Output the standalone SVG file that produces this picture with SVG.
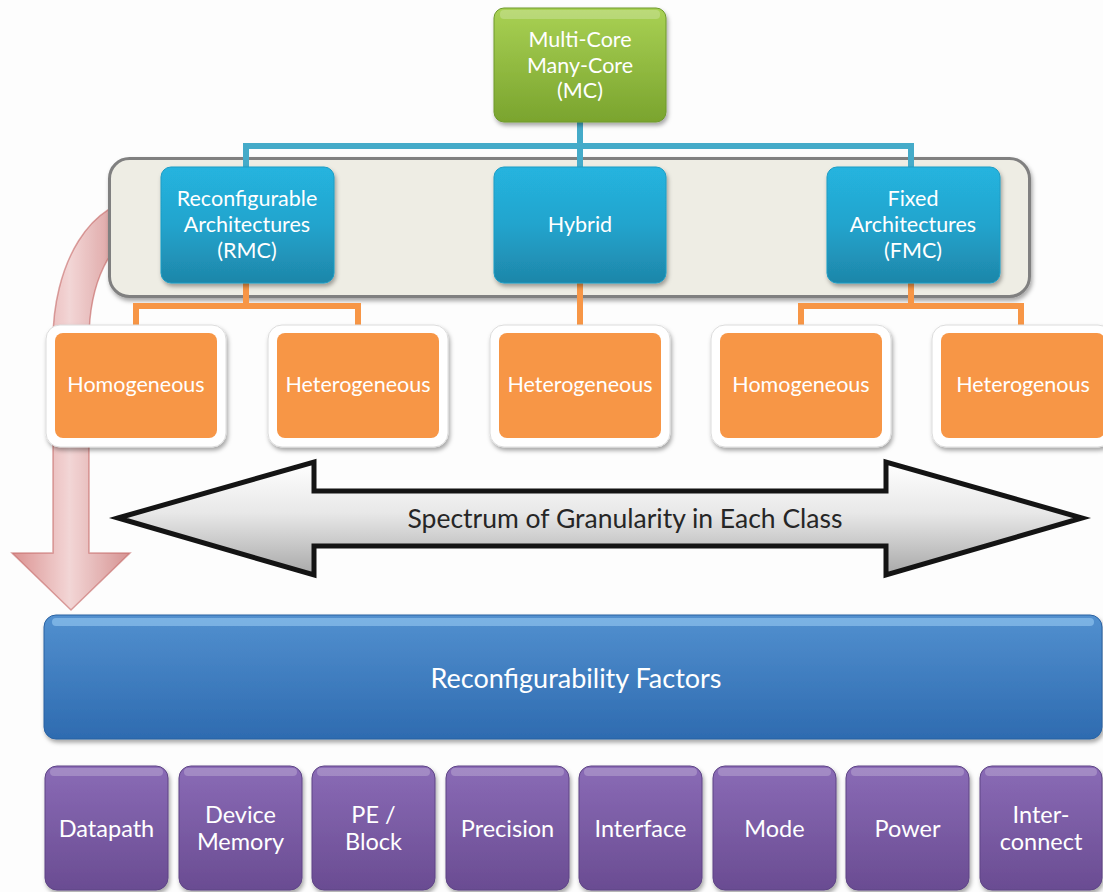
<svg xmlns="http://www.w3.org/2000/svg" width="1103" height="892" viewBox="0 0 1103 892">
<defs>
<style>
.t{font-family:Lato,"Open Sans","Liberation Sans",sans-serif;fill:#ffffff;text-anchor:middle}
.lb{font-size:21.5px}
.pu{font-size:23.5px}
.bluebox{fill:url(#gBlue);stroke:#1c9cc4;stroke-width:1}
.frame{fill:#ffffff;stroke:#dcdcdc;stroke-width:1}
.orange{fill:#F79646}
.purple{fill:url(#gPurple);stroke:#5e4585;stroke-width:1}
.hl{fill:#ffffff;opacity:0.22}
.conB{fill:none;stroke:#45ABC9;stroke-width:6}
.conO{fill:none;stroke:#F79646;stroke-width:6}
</style>
<filter id="sh" x="-10%" y="-10%" width="125%" height="135%">
<feDropShadow dx="1.5" dy="3" stdDeviation="2.2" flood-color="#000" flood-opacity="0.35"/>
</filter>
<linearGradient id="gGreen" x1="0" y1="0" x2="0" y2="1">
<stop offset="0" stop-color="#A9D154"/>
<stop offset="1" stop-color="#7AA42E"/>
</linearGradient>
<linearGradient id="gBlue" x1="0" y1="0" x2="0" y2="1">
<stop offset="0" stop-color="#25B4DF"/>
<stop offset="0.5" stop-color="#23A4CD"/>
<stop offset="1" stop-color="#1E86A9"/>
</linearGradient>
<linearGradient id="gBar" x1="0" y1="0" x2="0" y2="1">
<stop offset="0" stop-color="#5290CF"/>
<stop offset="1" stop-color="#2E6BB0"/>
</linearGradient>
<linearGradient id="gPurple" x1="0" y1="0" x2="0" y2="1">
<stop offset="0" stop-color="#8A6BB6"/>
<stop offset="1" stop-color="#6A4C92"/>
</linearGradient>
<linearGradient id="gSpec" x1="0" y1="0" x2="0" y2="1">
<stop offset="0" stop-color="#FFFFFF"/>
<stop offset="0.45" stop-color="#E8E8E8"/>
<stop offset="1" stop-color="#A8A8A8"/>
</linearGradient>
<linearGradient id="gPink" x1="0" y1="0" x2="1" y2="0">
<stop offset="0" stop-color="#D98A89"/>
<stop offset="0.45" stop-color="#F2D3D3"/>
<stop offset="1" stop-color="#CE7F7E"/>
</linearGradient>
</defs>
<rect x="0" y="0" width="1103" height="892" fill="#FDFDFD"/>

<g id="curved-arrow">
<path d="M140 200 A87 140 0 0 0 53 340 L53 553 L12 553 L71 610 L130 553 L89 553 L89 340 A51 104 0 0 1 140 236 Z" fill="url(#gPink)" stroke="#C05A59" stroke-width="1.5" stroke-opacity="0.6" opacity="0.92"/>
</g>

<g id="class-container">
<rect x="109.5" y="158.5" width="920" height="138" rx="20" fill="#EEEDE4" stroke="#808080" stroke-width="3" filter="url(#sh)"/>
</g>

<g id="connectors">
<path class="conB" d="M580 122 V168 M246 168 V146 H911 V168"/>
<path class="conO" d="M246 283 V306 M136 326 V306 H358 V326 M580 283 V326 M911 283 V306 M801 326 V306 H1021 V326"/>
</g>

<g id="mc">
<rect x="494" y="8" width="172" height="114" rx="10" fill="url(#gGreen)" stroke="#6E9A2C" stroke-width="1" filter="url(#sh)"/>
<rect class="hl" x="500" y="10" width="160" height="9" rx="4"/>
<text class="t lb" x="580" y="47">Multi-Core</text>
<text class="t lb" x="580" y="73">Many-Core</text>
<text class="t lb" x="580" y="98">(MC)</text>
</g>

<g id="rmc">
<rect class="bluebox" x="161" y="167" width="173" height="116" rx="10" filter="url(#sh)"/>
<text class="t lb" x="247" y="206">Reconfigurable</text>
<text class="t lb" x="247" y="232">Architectures</text>
<text class="t lb" x="247" y="258">(RMC)</text>
</g>
<g id="hybrid">
<rect class="bluebox" x="494" y="167" width="172" height="116" rx="10" filter="url(#sh)"/>
<text class="t lb" x="580" y="232">Hybrid</text>
</g>
<g id="fmc">
<rect class="bluebox" x="827" y="167" width="173" height="116" rx="10" filter="url(#sh)"/>
<text class="t lb" x="913" y="206">Fixed</text>
<text class="t lb" x="913" y="232">Architectures</text>
<text class="t lb" x="913" y="258">(FMC)</text>
</g>

<g id="rmc-homogeneous">
<rect class="frame" x="46" y="325" width="180" height="122" rx="14" filter="url(#sh)"/>
<rect class="orange" x="55" y="333" width="162" height="105" rx="8"/>
<text class="t lb" x="136" y="392">Homogeneous</text>
</g>
<g id="rmc-heterogeneous">
<rect class="frame" x="268" y="325" width="180" height="122" rx="14" filter="url(#sh)"/>
<rect class="orange" x="277" y="333" width="162" height="105" rx="8"/>
<text class="t lb" x="358" y="392">Heterogeneous</text>
</g>
<g id="hybrid-heterogeneous">
<rect class="frame" x="490" y="325" width="180" height="122" rx="14" filter="url(#sh)"/>
<rect class="orange" x="499" y="333" width="162" height="105" rx="8"/>
<text class="t lb" x="580" y="392">Heterogeneous</text>
</g>
<g id="fmc-homogeneous">
<rect class="frame" x="711" y="325" width="180" height="122" rx="14" filter="url(#sh)"/>
<rect class="orange" x="720" y="333" width="162" height="105" rx="8"/>
<text class="t lb" x="801" y="392">Homogeneous</text>
</g>
<g id="fmc-heterogenous">
<rect class="frame" x="932" y="325" width="180" height="122" rx="14" filter="url(#sh)"/>
<rect class="orange" x="941" y="333" width="164" height="105" rx="8"/>
<text class="t lb" x="1023" y="392">Heterogenous</text>
</g>

<g id="spectrum">
<polygon points="118,518 314,462 314,491 886,491 886,462 1082,518 886,575 886,546 314,546 314,575" fill="url(#gSpec)" stroke="#141414" stroke-width="5" stroke-linejoin="miter"/>
<text x="625" y="528" font-family="Lato,'Open Sans','Liberation Sans',sans-serif" font-size="26.5" fill="#262626" text-anchor="middle">Spectrum of Granularity in Each Class</text>
</g>

<g id="factors">
<rect x="44" y="615" width="1058" height="124" rx="12" fill="url(#gBar)" stroke="#2A62A2" stroke-width="1" filter="url(#sh)"/>
<rect x="52" y="618" width="1042" height="8" rx="4" fill="#9FD0F5" opacity="0.55"/>
<text class="t" x="576" y="688" font-size="27">Reconfigurability Factors</text>
</g>

<g id="datapath">
<rect class="purple" x="45" y="766" width="123" height="124" rx="12" filter="url(#sh)"/>
<rect class="hl" x="50" y="768" width="113" height="8" rx="4"/>
<text class="t pu" x="106.5" y="837">Datapath</text>
</g>
<g id="device-memory">
<rect class="purple" x="179" y="766" width="123" height="124" rx="12" filter="url(#sh)"/>
<rect class="hl" x="184" y="768" width="113" height="8" rx="4"/>
<text class="t pu" x="240.5" y="823">Device</text>
<text class="t pu" x="240.5" y="850">Memory</text>
</g>
<g id="pe-block">
<rect class="purple" x="312" y="766" width="123" height="124" rx="12" filter="url(#sh)"/>
<rect class="hl" x="317" y="768" width="113" height="8" rx="4"/>
<text class="t pu" x="373.5" y="823">PE /</text>
<text class="t pu" x="373.5" y="850">Block</text>
</g>
<g id="precision">
<rect class="purple" x="446" y="766" width="123" height="124" rx="12" filter="url(#sh)"/>
<rect class="hl" x="451" y="768" width="113" height="8" rx="4"/>
<text class="t pu" x="507.5" y="837">Precision</text>
</g>
<g id="interface">
<rect class="purple" x="579" y="766" width="123" height="124" rx="12" filter="url(#sh)"/>
<rect class="hl" x="584" y="768" width="113" height="8" rx="4"/>
<text class="t pu" x="640.5" y="837">Interface</text>
</g>
<g id="mode">
<rect class="purple" x="713" y="766" width="123" height="124" rx="12" filter="url(#sh)"/>
<rect class="hl" x="718" y="768" width="113" height="8" rx="4"/>
<text class="t pu" x="774.5" y="837">Mode</text>
</g>
<g id="power">
<rect class="purple" x="846" y="766" width="123" height="124" rx="12" filter="url(#sh)"/>
<rect class="hl" x="851" y="768" width="113" height="8" rx="4"/>
<text class="t pu" x="907.5" y="837">Power</text>
</g>
<g id="interconnect">
<rect class="purple" x="980" y="766" width="122" height="124" rx="12" filter="url(#sh)"/>
<rect class="hl" x="985" y="768" width="112" height="8" rx="4"/>
<text class="t pu" x="1041" y="823">Inter-</text>
<text class="t pu" x="1041" y="850">connect</text>
</g>
</svg>
